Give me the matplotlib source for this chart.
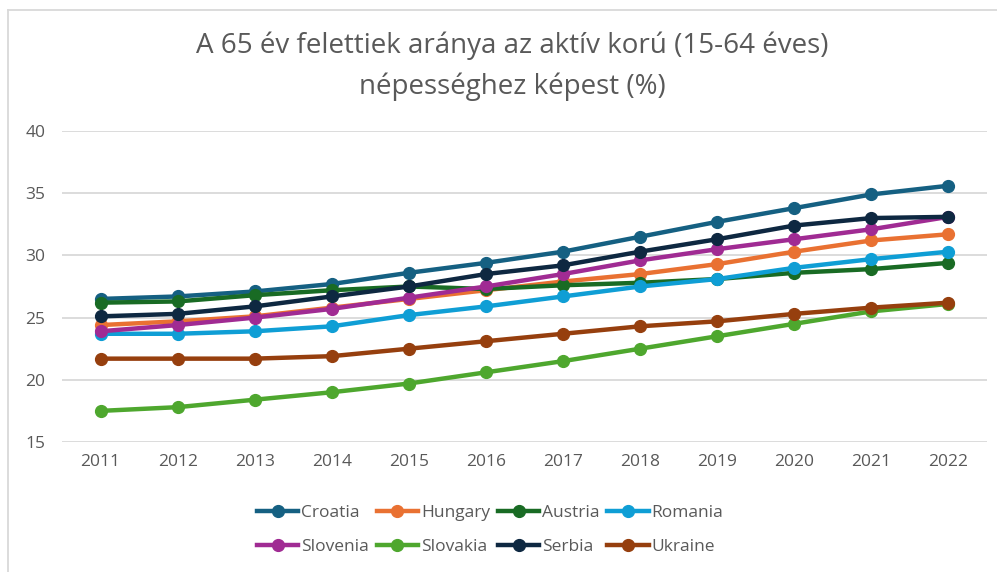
import matplotlib
matplotlib.use("Agg")
import matplotlib.pyplot as plt
from matplotlib.lines import Line2D

plt.rcParams['font.family'] = ['Open Sans', 'DejaVu Sans']

years = ["2011", "2012", "2013", "2014", "2015", "2016", "2017", "2018", "2019", "2020", "2021", "2022"]

croatia  = [26.5, 26.7, 27.1, 27.7, 28.6, 29.4, 30.3, 31.5, 32.7, 33.8, 34.9, 35.6]
hungary  = [24.4, 24.7, 25.1, 25.8, 26.5, 27.2, 27.9, 28.5, 29.3, 30.3, 31.2, 31.7]
austria  = [26.2, 26.3, 26.8, 27.2, 27.5, 27.3, 27.6, 27.8, 28.1, 28.6, 28.9, 29.4]
romania  = [23.7, 23.7, 23.9, 24.3, 25.2, 25.9, 26.7, 27.5, 28.1, 29.0, 29.7, 30.3]
slovenia = [23.9, 24.4, 25.0, 25.7, 26.6, 27.5, 28.5, 29.6, 30.5, 31.3, 32.1, 33.1]
slovakia = [17.5, 17.8, 18.4, 19.0, 19.7, 20.6, 21.5, 22.5, 23.5, 24.5, 25.5, 26.1]
serbia   = [25.1, 25.3, 25.9, 26.7, 27.5, 28.5, 29.2, 30.3, 31.3, 32.4, 33.0, 33.1]
ukraine  = [21.7, 21.7, 21.7, 21.9, 22.5, 23.1, 23.7, 24.3, 24.7, 25.3, 25.8, 26.2]

series_names = ["Croatia", "Hungary", "Austria", "Romania", "Slovenia", "Slovakia", "Serbia", "Ukraine"]
series_values = [croatia, hungary, austria, romania, slovenia, slovakia, serbia, ukraine]
colors = ["#156082", "#E97132", "#196B24", "#0F9ED5", "#A02B93", "#4EA72E", "#0E2841", "#963F0E"]

yticks = [15, 20, 25, 30, 35, 40]
title = "A 65 év felettiek aránya az aktív korú (15-64 éves)\nnépességhez képest (%)"

W, H = 997, 572
fig = plt.figure(figsize=(W / 100, H / 100), dpi=100)
fig.patch.set_facecolor("white")

# axes in pixel coords: x 62..987, y 131..442
ax = fig.add_axes([62 / W, 1 - 442 / H, (987 - 62) / W, (442 - 131) / H])
x = list(range(len(years)))
order = [7, 5, 3, 1, 2, 4, 6, 0]
for i in order:
    ax.plot(x, series_values[i], color=colors[i], lw=3.2, marker='o', ms=8.5,
            solid_capstyle='round', zorder=3 + i * 0.01)

ax.set_xlim(-0.5, len(years) - 0.5)
ax.set_ylim(15, 40)
ax.set_yticks(yticks)
ax.set_xticks(x)
ax.set_xticklabels(years)
ax.grid(axis='y', color='#D9D9D9', lw=1.3)
ax.set_axisbelow(True)
for s in ax.spines.values():
    s.set_visible(False)
ax.tick_params(axis='both', length=0, labelsize=12.5, colors='#595959')
ax.tick_params(axis='y', pad=12)
ax.tick_params(axis='x', pad=9)

fig.text(0.5 + 14 / W, 1 - 66 / H, title, ha='center', va='center', fontsize=20,
         color='#595959', linespacing=1.6)

# legend filled row-wise (matplotlib fills column-wise)
ncol = 4
nrow = 2
idx = [r * ncol + c for c in range(ncol) for r in range(nrow)]
handles = [Line2D([0], [0], color=colors[i], lw=3.2, marker='o', ms=8.5) for i in idx]
labels = [series_names[i] for i in idx]
leg = fig.legend(handles, labels, ncol=ncol, loc='center',
                 bbox_to_anchor=(490 / W, 1 - 530 / H), frameon=False,
                 fontsize=12.5, handlelength=2.4, handletextpad=0.15,
                 columnspacing=0.45, labelspacing=1.05, labelcolor='#595959')

# chart border (top and left visible)
fig.add_artist(Line2D([8 / W, 8 / W], [0, 1 - 10 / H], color='#D9D9D9', lw=1.3, transform=fig.transFigure))
fig.add_artist(Line2D([8 / W, 1], [1 - 10 / H, 1 - 10 / H], color='#D9D9D9', lw=1.3, transform=fig.transFigure))

fig.savefig("out.png", dpi=100)
